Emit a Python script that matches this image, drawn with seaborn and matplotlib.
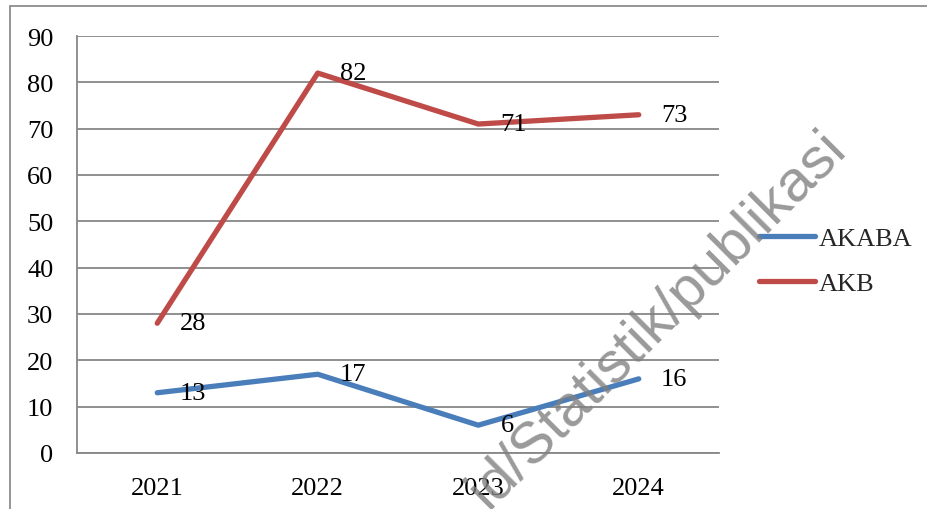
import matplotlib
matplotlib.use("Agg")
import matplotlib.pyplot as plt
import seaborn as sns
import pandas as pd
from matplotlib.patches import Rectangle

years = ["2021", "2022", "2023", "2024"]
akaba = [13, 17, 6, 16]
akb = [28, 82, 71, 73]
series_names = ["AKABA", "AKB"]
colors = {"AKABA": "#4A7EBB", "AKB": "#BE4B48"}

df = pd.DataFrame({
    "year": years * 2,
    "value": akaba + akb,
    "series": ["AKABA"] * len(years) + ["AKB"] * len(years),
})

sns.set_theme(style="white")
plt.rcParams["font.family"] = ["Liberation Serif", "DejaVu Serif"]

W, H = 928, 510
fig = plt.figure(figsize=(W / 100, H / 100), dpi=100)
ax = fig.add_axes([77 / W, 1 - 454 / H, (719 - 77) / W, (454 - 37) / H])

sns.lineplot(data=df, x="year", y="value", hue="series", palette=colors,
             linewidth=3.8, ax=ax, sort=False, legend=True)

ax.set_xlim(-0.5, 3.5)
ax.set_ylim(0, 90)
ax.set_yticks(range(0, 91, 10))
ax.set_xlabel("")
ax.set_ylabel("")
grid_c = "#878787"
ax.yaxis.grid(True, color=grid_c, linewidth=1.3)
ax.xaxis.grid(False)
for s in ["top", "right"]:
    ax.spines[s].set_visible(False)
for s in ["left", "bottom"]:
    ax.spines[s].set_color(grid_c)
    ax.spines[s].set_linewidth(1.3)
ax.tick_params(axis="both", length=0, labelsize=19, colors="black")
ax.tick_params(axis="y", pad=17)
ax.tick_params(axis="x", pad=17)

# data labels
for name, vals in [("AKABA", akaba), ("AKB", akb)]:
    for i, v in enumerate(vals):
        ax.annotate(str(v), (i, v), xytext=(16, 0), textcoords="offset points",
                    ha="left", va="center", fontsize=19, color="black")

# legend
handles, labels = ax.get_legend_handles_labels()
for h in handles:
    h.set_linewidth(3.8)
ax.legend(handles, labels, loc="center left", bbox_to_anchor=(746 / W, 1 - 262 / H),
          bbox_transform=fig.transFigure, frameon=False, fontsize=19,
          handlelength=2.1, handletextpad=0.15, labelspacing=0.8, borderpad=0)

# figure border
fig.patches.append(Rectangle((10 / W, -0.1), 1.2, 1 - 7 / H + 0.1,
                             transform=fig.transFigure, fill=False,
                             edgecolor="#8c8c8c", linewidth=1.3))

# watermark
fig.text(657 / W, 1 - 320 / H, "id/Statistik/publikasi", rotation=45,
         rotation_mode="anchor", ha="center", va="center",
         fontsize=42, family="Liberation Sans", color="#808080", alpha=0.8)

fig.savefig("out.png", dpi=100)
